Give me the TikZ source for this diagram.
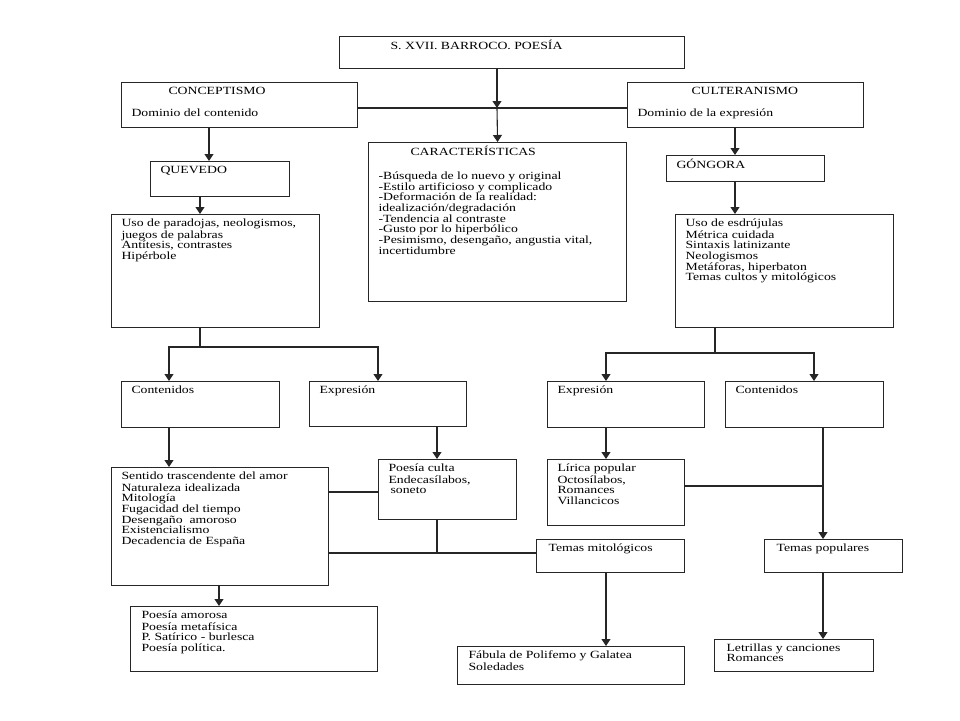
\documentclass[tikz,border=0pt]{standalone}
\usepackage{fontspec}
\setmainfont{Liberation Serif}[FakeStretch=1.25]
\usepackage{tikz}
\usetikzlibrary{arrows.meta,positioning,calc}
\newcommand{\letra}{\fontsize{11}{10.7}\selectfont}
\tikzset{
  caja/.style 2 args = {draw=black!85, line width=1.1pt, anchor=north west,
                        inner xsep=10pt, inner ysep=4pt, font=\letra,
                        execute at begin node={\begin{minipage}[t][\dimexpr#2-8pt\relax][t]{\dimexpr#1-20pt\relax}\raggedright\strut},
                        execute at end node={\end{minipage}}},
  linea/.style  = {draw=black!85, line width=1.1pt},
  flecha/.style = {linea, -{Triangle[length=7pt,width=9pt]}},
}

\begin{document}
\begin{tikzpicture}[x=1pt, y=-1pt]
  \fill[white] (0,0) rectangle (960,720);
  \useasboundingbox (0,0) rectangle (960,720);

  %% ---- Cabecera ----
  \node[caja={345pt}{32pt}] (titulo) at (339,36)
        {\hspace*{41pt}S. XVII. BARROCO. POESÍA};
  \node[caja={236pt}{45pt}] (concep) at (121,82)
        {\hspace*{37pt}CONCEPTISMO\\[10.3pt]Dominio del contenido};
  \node[caja={236pt}{45pt}] (cult)   at (627,82)
        {\hspace*{54pt}CULTERANISMO\\[10.3pt]Dominio de la expresión};
  \node[caja={258pt}{159pt}] (caract) at (368,142)
        {\hspace*{32pt}CARACTERÍSTICAS\\[11.6pt]
         -Búsqueda de lo nuevo y original\\
         -Estilo artificioso y complicado\\
         -Deformación de la realidad:\\
         idealización/degradación\\
         -Tendencia al contraste\\
         -Gusto por lo hiperbólico\\
         -Pesimismo, desengaño, angustia vital,\\
         incertidumbre};

  %% ---- Autores ----
  \node[caja={139pt}{35pt}] (quevedo) at (150,161) {QUEVEDO};
  \node[caja={158pt}{26pt}] (gongora) at (666,155) {GÓNGORA};
  \node[caja={208pt}{113pt}] (usoq) at (111,214)
        {Uso de paradojas, neologismos,\\juegos de palabras\\
         Antítesis, contrastes\\Hipérbole};
  \node[caja={218pt}{113pt}] (usog) at (675,214)
        {Uso de esdrújulas\\Métrica cuidada\\Sintaxis latinizante\\
         Neologismos\\Metáforas, hiperbaton\\Temas cultos y mitológicos};

  %% ---- Contenidos / Expresión ----
  \node[caja={158pt}{46pt}] (contq) at (121,381) {Contenidos};
  \node[caja={157pt}{45pt}] (expq)  at (309,381) {Expresión};
  \node[caja={157pt}{46pt}] (expg)  at (547,381) {Expresión};
  \node[caja={158pt}{46pt}] (contg) at (725,381) {Contenidos};

  %% ---- Temas ----
  \node[caja={217pt}{118pt}] (sentido) at (111,467)
        {Sentido trascendente del amor\\Naturaleza idealizada\\Mitología\\
         Fugacidad del tiempo\\Desengaño\ \ amoroso\\Existencialismo\\
         Decadencia de España};
  \node[caja={138pt}{60pt}] (culta) at (378,459)
        {Poesía culta\\Endecasílabos,\\\hspace*{2pt}soneto};
  \node[caja={137pt}{66pt}] (lirica) at (547,459)
        {Lírica popular\\Octosílabos,\\Romances\\Villancicos};
  \node[caja={148pt}{33pt}] (mitol) at (536,539)
        {\hspace*{2pt}Temas mitológicos};
  \node[caja={138pt}{33pt}] (popul) at (764,539)
        {\hspace*{2pt}Temas populares};

  %% ---- Obras ----
  \node[caja={247pt}{65pt}] (amorosa) at (130,606)
        {\hspace*{1pt}Poesía amorosa\\\hspace*{1pt}Poesía metafísica\\
         \hspace*{1pt}P. Satírico - burlesca\\\hspace*{1pt}Poesía política.};
  \node[caja={227pt}{38pt}] (fabula) at (457,646)
        {\hspace*{1pt}Fábula de Polifemo y Galatea\\\hspace*{1pt}Soledades};
  \node[caja={159pt}{32pt}] (letrillas) at (714,639)
        {\hspace*{2pt}Letrillas y canciones\\\hspace*{2pt}Romances};

  %% ---- Nudos ----
  \coordinate (cruce) at (497,108);
  \coordinate (ramaQ) at (200,347);
  \coordinate (ramaG) at (715,353);
  \coordinate (nudoC) at (437,553);
  \coordinate (nudoL) at (823,486);

  %% ---- Flechas: cabecera ----
  \draw[flecha] (titulo.south -| cruce) -- (cruce);
  \draw[linea]  (concep.east |- cruce) -- (cult.west |- cruce);
  \draw[flecha] (cruce) -- (caract.north);
  \draw[flecha] (concep.south -| 209,0) -- (quevedo.north -| 209,0);
  \draw[flecha] (cult.south -| 735,0) -- (gongora.north -| 735,0);
  \draw[flecha] (quevedo.south -| ramaQ) -- (usoq.north -| ramaQ);
  \draw[flecha] (gongora.south -| 735,0) -- (usog.north -| 735,0);

  %% ---- Flechas: ramas ----
  \draw[linea]  (usoq.south -| ramaQ) -- (ramaQ);
  \draw[flecha] (ramaQ) -| (contq.north -| 169,0);
  \draw[flecha] (ramaQ) -| (expq.north -| 378,0);
  \draw[linea]  (usog.south -| ramaG) -- (ramaG);
  \draw[flecha] (ramaG) -| (expg.north -| 606,0);
  \draw[flecha] (ramaG) -| (contg.north -| 814,0);

  %% ---- Flechas: temas ----
  \draw[flecha] (contq.south -| 169,0) -- (sentido.north -| 169,0);
  \draw[flecha] (expq.south -| nudoC) -- (culta.north -| nudoC);
  \draw[flecha] (expg.south -| 606,0) -- (lirica.north -| 606,0);
  \draw[flecha] (contg.south -| nudoL) -- (popul.north -| nudoL);
  \draw[linea]  (sentido.east |- 0,492) -- (culta.west |- 0,492);
  \draw[linea]  (lirica.east |- nudoL) -- (nudoL);
  \draw[linea]  (culta.south -| nudoC) -- (nudoC);
  \draw[linea]  (sentido.east |- nudoC) -- (mitol.west |- nudoC);

  %% ---- Flechas: obras ----
  \draw[flecha] (sentido.south -| 219,0) -- (amorosa.north -| 219,0);
  \draw[flecha] (mitol.south -| 606,0) -- (fabula.north -| 606,0);
  \draw[flecha] (popul.south -| nudoL) -- (letrillas.north -| nudoL);

\end{tikzpicture}
\end{document}
